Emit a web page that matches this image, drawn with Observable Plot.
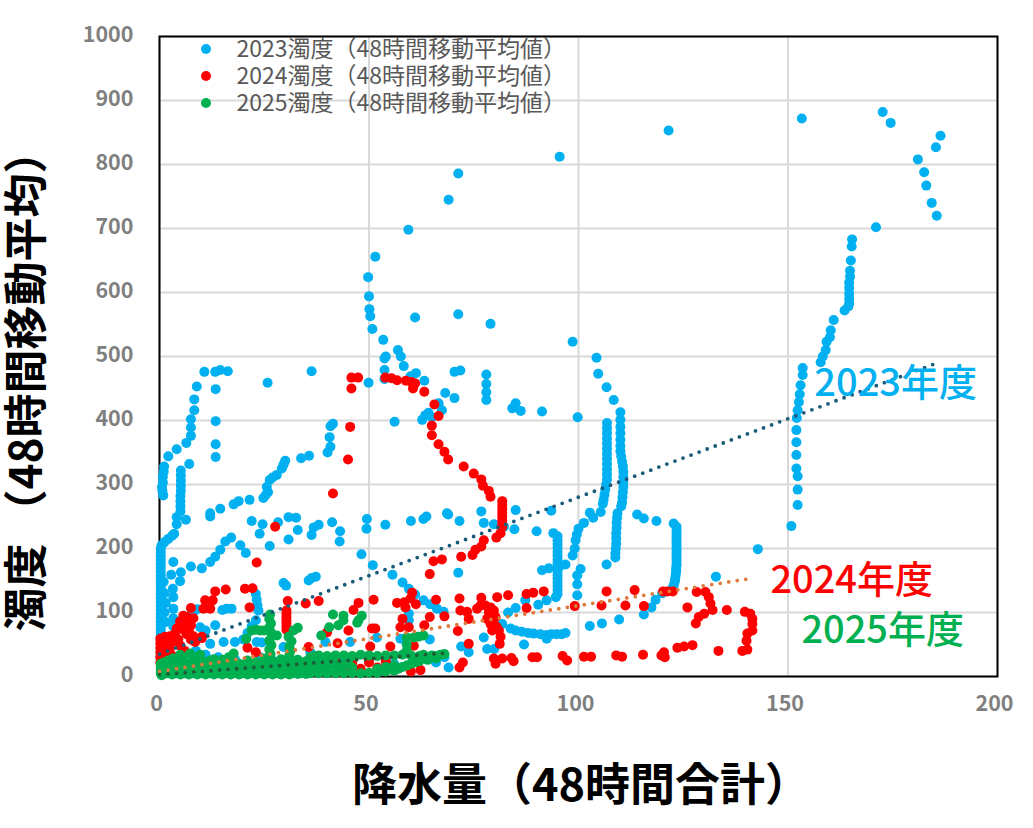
<!DOCTYPE html>
<html lang="ja">
<head>
<meta charset="utf-8">
<script src="https://cdn.jsdelivr.net/npm/d3@7"></script>
<script src="https://cdn.jsdelivr.net/npm/@observablehq/plot@0.6"></script>
<style>
html,body{margin:0;padding:0;background:#fff;}
#wrap{position:relative;width:1033px;height:828px;overflow:hidden;font-family:"Noto Sans CJK JP","Noto Sans",sans-serif;}
.ld{position:absolute;left:201px;width:10px;height:10px;border-radius:50%;}
.ax{position:absolute;font-weight:700;color:#000;white-space:nowrap;}
</style>
</head>
<body>
<div id="wrap"></div>
<script>
const turbidity2023 = [
[95.5,812],[121.5,853],[153.3,872],[172.6,882],[174.5,865],[181,808],[182.5,788],[183,767],[184.3,740],[185.5,720],[185.3,827],[186.4,845],[171,702],
[165.3,683],[165.2,672],[165,650],[164.8,634],[164.8,625],[164.6,615],[164.6,607],[164.6,598],[164.6,590],[164.6,583],[164.4,578],[163.5,572],
[160.9,557],[160.2,541],[160,530],[159.2,523],[159,510],[158.3,500],[157.8,491],
[153.5,482],[153.5,471],[153,455],[152.8,441],[152.6,429],[152.3,416],[152.1,404],[152,385],[152,366],[152,346],[152,325],[152.3,313],[152.3,292],[152.3,268],[150.8,235],[142.8,199],[132.8,156],
[114,253],[115.6,247],[118.6,243],[122.7,239],[123.4,234],[123.4,229],[123.4,224],[123.4,219],[123.4,214],[123.4,209],[123.4,204],[123.4,199],[123.4,194],[123.4,189],[123.4,184],[123.4,179],[123.4,174],[123.3,169],[123.3,164],[123.2,159],[123.1,154],[123,149],[122.8,144],[122.5,139],
[120,130],[118.4,120],[117.4,108],[115.6,97],[109.7,89],[105.6,83],[102.7,79],
[106.8,396],[106.8,388],[106.8,380],[106.8,372],[106.8,364],[106.8,356],[106.8,348],[106.8,340],[106.8,332],[106.8,324],[106.8,316],[106.8,308],[106.6,300],[106.4,292],[106.2,284],[106,276],[105.8,270],
[110,413],[110,401],[110,390],[110,380],[110,370],[110,360],[110,352],[110.2,344],[110.4,336],[110.6,328],[110.7,320],[110.7,312],[110.7,304],[110.7,296],[110.6,288],[110.5,280],[110.4,272],[110.2,266],
[109.3,255],[109.2,248],[109.1,240],[109.1,232],[109,224],[109,216],[109,208],[108.9,200],[108.8,192],[108.8,186],[106.7,175],
[104.3,498],[104.7,473],[106.7,452],[108.4,432],[99.8,405],[98.6,523],
[105.3,257],[103.5,248],[102.7,256],[101.3,240],[100,231],[99.6,222],[99.3,213],[99.1,200],[98.6,189],[100.5,168],[99.7,158],[99.7,144],[99.7,127],
[94,224],[95,219],[95,213],[95,207],[95,201],[95,195],[95,189],[95,183],[95,177],[95,171],[95,165],[95,159],[95,153],[95,147],[95,141],[95,135],[95,129],[94.6,124],[91.3,166],[92.9,169],[96.9,175],[95.5,172],
[81.8,82],[83.8,75],[85,72],[86.5,70],[88,68],[89.3,67],[90.9,66],[92.4,65],[93.5,66],[94.8,66],[96,66],[96.9,68],[92.4,59],
[87.3,119],[90.4,112],[92.4,119],[85,107],[83.2,100],[87,50],[77.4,61],[73.8,38],[72,47],[78.2,43],[79.9,43],[71.3,162],[68.9,253],[71.6,243],[76.8,258],[77.4,240],[79.8,238],[82.2,234],[85,260],[84.7,230],[90,227],[93.5,259],
[70.4,476],[71.8,478],[78,472],[78,457],[78,444],[78,432],[84.2,419],[85,427],[86.2,415],[91.3,414],[68.2,443],[70.4,435],
[49.8,624],[50,594],[50.1,574],[50.3,563],[50.8,543],[51.5,656],[59.4,698],[69,745],[71.3,786],[71.3,566],[79,551],[61,561],[53.4,526],[54,500],
[56.9,510],[57.6,500],[58.3,485],[59.9,469],[61.2,474],[53.7,497],[53.7,479],[53.7,465],[63.2,462],[49.9,459],[56.1,398],[62.7,401],[63.4,408],[64.2,412],[66.6,427],[67.4,416],[65,405],
[0.9,283],[0.6,296],[0.8,312],[1.1,328],[0.7,290],[0.8,303],[1,320],[2.1,344],[4.1,355],[6.4,365],[7.5,376],[7.5,389],[7.5,402],[8.3,416],[8.3,433],[8.9,453],[10.7,476],[13.3,476],[14.5,479],[16.3,477],[13.4,449],[13.4,399],[13.4,363],[13.4,343],[25.8,459],[36.3,477],
[5.1,322],[5.1,314],[5.1,306],[5.1,298],[5.1,290],[5,282],[5,274],[5,266],[5,258],[4.1,249],[6.3,245],[7.1,332],[4.1,238],[3.5,223],[2.1,215],[3,220],[1.2,210],[0.5,205],
[12.1,255],[12.1,250],[14.5,262],[17.7,269],[18.9,274],[21.5,276],[24.8,279],[25.4,284],[25.6,296],[25.9,288],[26.3,307],[27,311],[28,315],[29.2,325],[30,337],[29.6,331],[33.8,341],[35.7,345],[40.1,350],[40.8,359],[40.6,374],[40.8,391],[41.4,395],
[22,243],[24.6,238],[23.9,223],[26.3,204],[30.8,249],[32.6,248],[33,229],[30.8,214],[28.3,241],[36.3,221],[36.8,233],[38,237],[41.2,241],[43.1,227],[43,211],[49.5,246],[49.4,231],[53.9,237],[60,243],[63,246],[63.7,250],[68.6,255],
[17.1,217],[15.7,211],[14.5,198],[13.3,187],[12.1,179],[10.1,169],[7.5,172],[3.3,179],[2.8,159],[5.1,163],[4.9,149],[3.2,137],[3.3,124],[3.3,106],[3.3,91],[3.3,78],[19.3,205],[20.6,193],[48.2,191],[50.9,174],[55.6,159],[58,147],[59.5,137],[61,128],[63,119],[64.6,113],[66.2,106],[67.8,101],
[29.6,146],[30.2,142],[35.6,150],[36.3,154],[37.3,156],[23,129],[23.2,120],[23.4,111],[23.6,103],[16,106],[17.2,106],[15,104],[9.7,77],[13.3,80],[11,72],[8,100],[9,105],[12.1,51],[15.3,54],[18,54],[20,58],[21,68],[22,78],[23,88],[23.2,54],[24.4,53],[29.6,46],[39.6,54],[45.5,54],[51.9,61],[57.5,59],[59.5,98],[59.5,88],
[0.3,200],[0.3,194],[0.3,188],[0.3,182],[0.3,176],[0.3,170],[0.3,164],[0.3,158],[0.3,152],[0.3,146],[0.3,140],[0.3,134],[0.3,128],[0.3,122],[0.3,116],[0.3,110],[0.3,104],[0.3,98],[0.3,92],[0.3,86],[0.3,80],[0.3,74],[0.3,68],[0.3,62],[0.3,56],[0.3,50],[0.3,44],[0.3,38],[0.3,32],[0.3,26],[0.3,20],
[1,148],[1.2,130],[1.5,115],[1.2,100],[1.4,85],[8.7,40],[11,34],[14,30],[18,27],[24,30],[27,25],[33,20],[36,38],[44,30],[50,25],[56,20],[62,26],[66,22],[68,30],[69,14],[64.5,58]
];
const turbidity2024 = [
[45.8,467],[47.4,467],[45.8,450],[45.5,390],[45,339],[41.4,286],[53.9,467],[55.4,466],[56.7,463],[58.8,462],[60.1,460],[61,458],[60.5,450],[63.2,445],[65.6,425],[66.6,407],[65,392],[65,377],[66.6,363],[68,351],[68.9,339],[72.6,328],[75,317],[76.8,308],[77.2,298],[78.6,290],[79,281],
[81.8,274],[81.8,268],[81.8,262],[81.8,256],[81.8,250],[81.8,244],[81.8,238],[81.8,234],[81.4,224],[80.4,217],[77.4,213],[76.8,203],[75.4,198],[74.7,190],[72,187],[67.4,183],[65.4,180],
[139.1,40],[140.3,42],[140.1,56],[140.3,67],[141.5,72],[141.5,82],[141.5,90],[141,98],[139.7,101],[135.4,104],[133.4,40],[127.2,49],[125.2,47],[123.6,45],[120.4,38],[119.8,33],[120.6,30],[115.4,34],[110.4,31],[109,33],[103,31],[101.3,31],[97.3,25],[96.2,32],[90.1,30],[89,30],[84.5,24],[84,29],[81.8,28],[79.8,28],[80.2,20],[72.4,22],[71.6,14],
[128,83],[128.7,93],[130,98],[132,104],[131.5,114],[131.1,124],[130.3,132],[128.2,132],[126,108],[122.5,133],[121.2,133],[120.2,133],[115.6,110],[113.4,135],[111.2,111],[106.7,133],[105.5,111],[99.1,110],[91.7,133],[89.2,131],[87.6,129],[87.6,107],[83.2,127],[80.6,124],[76.8,123],[71.6,122],[71.8,103],
[75.8,106],[76.6,111],[77.8,111],[79,108],[79.8,103],[80.2,93],[78.2,90],[79,82],[79.4,72],[81,72],[81.4,62],[81.2,51],[73.4,101],[73.8,90],[68,94],[71.2,71],[73.8,51],[78.6,100],[79.5,86],[80.4,78],
[64.5,160],[66,120],[64.5,93],[63.2,80],[60.3,131],[56.7,115],[58.4,116],[59.9,122],[61.2,113],[58.7,108],[58,90],[57.5,77],[59.5,77],[51.1,120],[47.5,115],[46.3,104],[50.7,75],[51.5,75],[50.3,47],[55.1,47],[45.1,72],[42.5,52],[40,69],[35.6,46],[62.3,10],[60.7,48],
[34.9,114],[38,118],[30.6,118],[30.3,103],[30.3,98],[30.3,93],[30.3,88],[30.3,83],[30.3,78],[30.3,73],[27.6,234],[23.2,178],[20.4,137],[22.2,138],[21.5,108],[15.8,136],[13.3,133],[10.9,119],[12.7,119],[10.5,106],[12.1,106],[7.5,107],[5.7,95],[8.1,91],[4.9,86],[6.5,82],[8.1,63],[10.1,62],
[0.2,59],[0.2,52],[0.2,45],[0.2,38],[0.2,30],[0.2,22],[1.3,62],[2.5,63],[3.7,67],[4.1,75],[1.5,50],[3.2,54],[4.5,58],[0.9,42],[2.4,44],[1.4,33],[2.6,36],[5.7,88],[6.5,93],[5.5,74],[6.5,66],[7.5,58],[8.5,54],[10.1,60],[5,48],[6,40],[4,30],[1.5,24],[3,28],[2,56],[7.5,80],[7,72],
[21,45],[23,38],[25,25],[27,22],[36,14],[40,10],[44,8],[48,12],[52,14],[56,12],[60,8],[38,22],[42,24],[46,20],[50,22],[54,24]
];
const turbidity2025 = [
[26.4,97],[26.2,90],[26.6,83],[26.2,76],[26.5,70],[26.8,63],[26.2,56],[26.7,49],[26.2,42],[26.5,35],[26.4,28],
[22,72],[23,73],[24,72],[25,72],[20.7,59],[28,64],[30.8,62],[32,72],[33,76],[31,47],[31,33],[31.5,55],[31.2,40],[38.6,64],[40.5,77],[42.7,80],[43.9,95],[41.4,97],[47.5,88],[48.3,95],[43.9,88],[47.2,84],[59,61],[60.7,61],[63,64],[59,50],[59,40],[61.8,62],
[9.7,34],[17.7,36],[7.3,36],[4.9,34],[3.2,28],[5.7,30],[2,25],[1,22],[0.3,20],[0.3,15],[0.3,10],[0.3,5],[0.5,2],[16.5,30],[15,26],[12,25],[10,25],[8,24],[6,22],
[1,4],[2,5],[3,3],[4,5],[5,3],[6,5],[7,3],[8,5],[9,3],[10,5],[11,3],[12,5],[13,3],[14,5],[15,3],[16,5],[17,3],[18,5],[19,3],[20,5],[21,3],[22,5],[23,3],[24,5],[25,3],[26,5],[27,3],[28,5],[29,3],[30,5],[31,3],[32,5],[33,4],[34,5],[35,4],[36,5],
[2,14],[4,15],[6,13],[8,15],[10,14],[12,15],[14,14],[16,15],[18,13],[20,15],[22,14],[24,16],[26,15],[28,16],[30,15],[32,17],[34,16],[36,18],[38,17],[40,18],[42,18],[44,18],[46,14],
[3,20],[5,21],[7,20],[9,22],[11,22],[13,21],[15,20],[17,22],[19,20],[21,21],[23,22],[25,23],[27,24],[29,22],[31,23],[33,22],[35,24],[37,22],[39,23],
[4,26],[9,28],[13,27],[17,28],[21,25],[25,28],[29,27],[33,26],[37,26],[41,24],[45,22],
[1.5,9],[3.5,9],[5.5,10],[7.5,9],[9.5,10],[11.5,9],[13.5,10],[15.5,9],[17.5,10],[19.5,9],[21.5,10],[23.5,9],[25.5,10],[27.5,9],[29.5,10],[31.5,9],[33.5,10],[35.5,11],
[38,5],[40,5],[42,5],[44,5],[46,6],[48,5],[50,6],[52,6],[54,8],[56,9],[57,12],[58,15],[59,17],[60,20],[61,22],[56,17],[54,15],[52,12],[37,10],[40,11],[43,10],
[36,30],[37,32],[38,33],[40,32],[42,33],[44,33],[46,32],[48,34],[50,33],[52,32],[54,33],[56,33],[58,34],[60,33],[62,32],[63,34],[65,33],[66,32],[67,34],[68,35],[64,26],[66,28],[62,24]
];
const trend2023X = [0, 186], trend2023Y = [35, 491];
const trend2024X = [0, 140], trend2024Y = [8, 152];
const trend2025X = [0, 69], trend2025Y = [3, 37];
const xTicks = [0, 50, 100, 150, 200];
const yTicks = [0, 100, 200, 300, 400, 500, 600, 700, 800, 900, 1000];
const legendLabels = ["2023濁度（48時間移動平均値）", "2024濁度（48時間移動平均値）", "2025濁度（48時間移動平均値）"];
const colors = ["#00b0f0", "#ff0000", "#00b050"];
const trendColors = ["#1a5a7a", "#dd7a3c", "#1f5c36"];
const noteLabels = ["2023年度", "2024年度", "2025年度"];
const noteX = [175.7, 165.2, 172.6];
const noteY = [458, 150, 72];
const yTitle = ["濁度 （48時間移動平均）"];

const font = '"Noto Sans CJK JP","Noto Sans",sans-serif';
const seriesDot = (d, i) => Plot.dot(d, {x: p => p[0], y: p => p[1], r: 5, fill: colors[i]});
const trend = (xs, ys, i) => Plot.line(xs.map((x, k) => [x, ys[k]]), {
  x: p => p[0], y: p => p[1], stroke: trendColors[i], strokeWidth: 3.8,
  strokeDasharray: "0 8.6", strokeLinecap: "round"
});
const chart = Plot.plot({
  width: 1033, height: 828,
  marginLeft: 159, marginRight: 36, marginTop: 36, marginBottom: 152,
  style: {fontFamily: font, background: "#fff", overflow: "visible"},
  x: {domain: [0, 200], ticks: xTicks},
  y: {domain: [0, 1000], ticks: yTicks},
  marks: [
    Plot.gridX(xTicks, {stroke: "#d9d9d9", strokeWidth: 2, strokeOpacity: 1}),
    Plot.gridY(yTicks, {stroke: "#d9d9d9", strokeWidth: 2, strokeOpacity: 1}),
    Plot.frame({stroke: "#000", strokeWidth: 2}),
    Plot.axisX(xTicks, {anchor: "bottom", tickSize: 0, tickPadding: 19, label: null, fontSize: 21.5, fontWeight: 700, fill: "#7f7f7f", dx: -3, tickFormat: d => String(d)}),
    Plot.axisY(yTicks, {anchor: "left", tickSize: 0, tickPadding: 26, label: null, fontSize: 21.5, fontWeight: 700, fill: "#7f7f7f", dy: -1, tickFormat: d => String(d)}),
    seriesDot(turbidity2023, 0),
    seriesDot(turbidity2024, 1),
    seriesDot(turbidity2025, 2),
    trend(trend2023X, trend2023Y, 0),
    trend(trend2024X, trend2024Y, 1),
    trend(trend2025X, trend2025Y, 2),
    Plot.text(noteLabels, {x: (d, i) => noteX[i], y: (d, i) => noteY[i], text: d => d, fill: (d, i) => colors[i], fontSize: 38, fontWeight: 500}),
    Plot.text(yTitle, {frameAnchor: "left", textAnchor: "middle", dx: -132, dy: 24, rotate: -90, text: d => d, fontSize: 44, fontWeight: 700, fill: "#000"}),
    Plot.text([legendLabels.join("\n")], {frameAnchor: "top-left", textAnchor: "start", lineAnchor: "top", dx: 77, dy: 1, lineHeight: 27 / 23, text: d => d, fontSize: 23, fill: "#595959"})
  ]
});
const wrap = document.getElementById("wrap");
wrap.appendChild(chart);
const legendDots = [44, 71, 98];
legendLabels.forEach((t, i) => {
  const c = document.createElement("div"); c.className = "ld"; c.style.top = legendDots[i] + "px"; c.style.background = colors[i]; wrap.appendChild(c);
});
const xt = document.createElement("div"); xt.className = "ax"; xt.textContent = "降水量（48時間合計）";
xt.style.cssText = "left:352px;top:752px;font-size:45px;line-height:60px;"; wrap.appendChild(xt);
</script>
</body>
</html>
